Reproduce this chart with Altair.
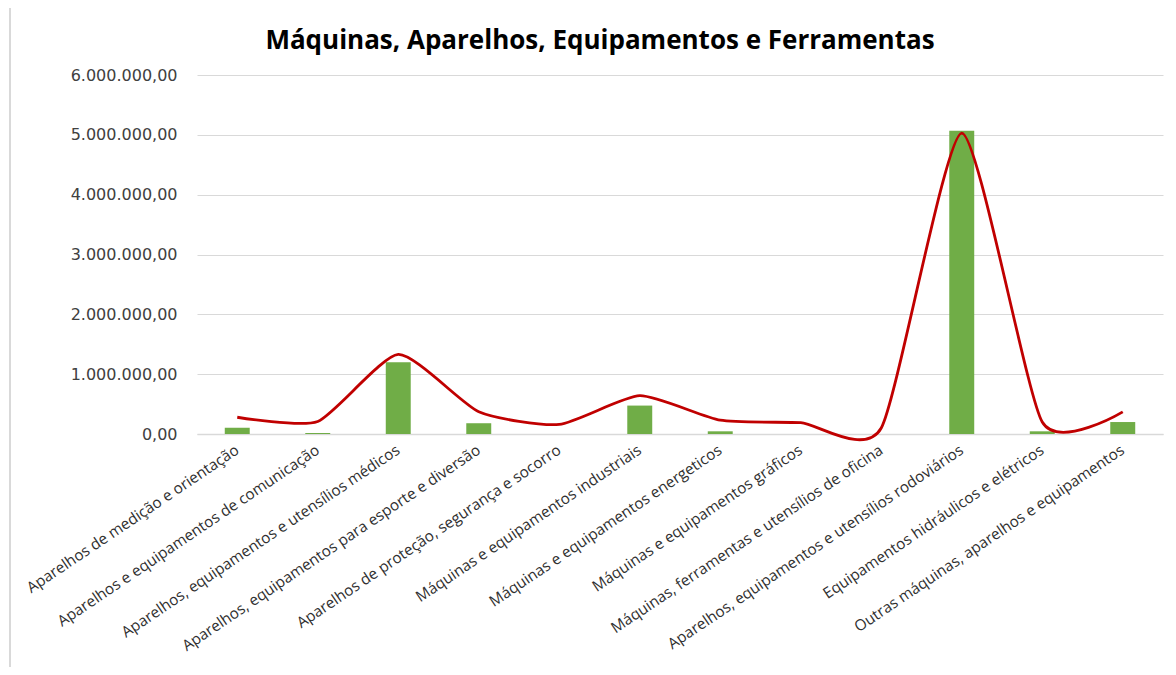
import altair as alt
import pandas as pd

titulo = "Máquinas, Aparelhos, Equipamentos e Ferramentas"
categorias = [
    "Aparelhos de medição e orientação",
    "Aparelhos e equipamentos de comunicação",
    "Aparelhos, equipamentos e utensílios médicos",
    "Aparelhos, equipamentos para esporte e diversão",
    "Aparelhos de proteção, segurança e socorro",
    "Máquinas e equipamentos industriais",
    "Máquinas e equipamentos energeticos",
    "Máquinas e equipamentos gráficos",
    "Máquinas, ferramentas e utensílios de oficina",
    "Aparelhos, equipamentos e utensílios rodoviários",
    "Equipamentos hidráulicos e elétricos",
    "Outras máquinas, aparelhos e equipamentos",
]
valores = [105000, 15000, 1200000, 180000, 0, 475000, 45000, 0, 0, 5070000, 45000, 200000]
tendencia = [280000, 210000, 1330000, 372000, 160000, 640000, 230000, 190000, 100000, 5030000, 200000, 370000]
y_ticks = [0, 1000000, 2000000, 3000000, 4000000, 5000000, 6000000]

df = pd.DataFrame({"categoria": categorias, "valor": valores, "tendencia": tendencia})

x_enc = alt.X(
    "categoria:N",
    sort=categorias,
    title=None,
    scale=alt.Scale(paddingInner=0.69, paddingOuter=0.345),
    axis=alt.Axis(
        labelAngle=-34,
        labelAlign="right",
        labelBaseline="middle",
        labelFont="Open Sans",
        labelFontSize=15.3,
        labelColor="#303030",
        labelPadding=14,
        labelLimit=400,
        ticks=False,
        domainColor="#D9D9D9",
        domainWidth=1.5,
        grid=False,
    ),
)

y_scale = alt.Scale(domain=[0, 6000000], nice=False, zero=True)

bars = alt.Chart(df).mark_bar(color="#70AD47").encode(
    x=x_enc,
    y=alt.Y(
        "valor:Q",
        scale=y_scale,
        title=None,
        axis=alt.Axis(
            values=y_ticks,
            format=",.2f",
            labelFont="DejaVu Sans",
            labelFontSize=16,
            labelColor="#404040",
            labelPadding=20,
            labelLimit=300,
            ticks=False,
            domain=False,
            gridColor="#D9D9D9",
            gridWidth=1.2,
        ),
    ),
)

line = alt.Chart(df).mark_line(
    color="#C00000", strokeWidth=2.8, interpolate="cardinal", tension=0.4
).encode(
    x=alt.X("categoria:N", sort=categorias),
    y=alt.Y("tendencia:Q", scale=y_scale),
)

frame = alt.Chart(df).mark_rule(color="#D9D9D9", strokeWidth=2).encode(
    x=alt.value(-187), y=alt.value(-75), y2=alt.value(620)
)

title_df = pd.DataFrame({"t": [titulo]})
title_mark = alt.Chart(title_df).mark_text(
    font="Open Sans", fontSize=26, fontWeight="bold", color="#000000",
    align="center", baseline="middle"
).encode(
    text="t:N", x=alt.value(403), y=alt.value(-34)
)

chart = (
    alt.layer(bars, line, frame, title_mark)
    .properties(
        width=966,
        height=359,
        autosize=alt.AutoSizeParams(type="none"),
        padding={"left": 189, "top": 67, "right": 5, "bottom": 233},
    )
    .configure(
        locale={"number": {"decimal": ",", "thousands": ".", "grouping": [3], "currency": ["R$", ""]}}
    )
    .configure_view(stroke=None)
)

chart.save("out.html", embed_options={"renderer": "svg", "actions": False})
